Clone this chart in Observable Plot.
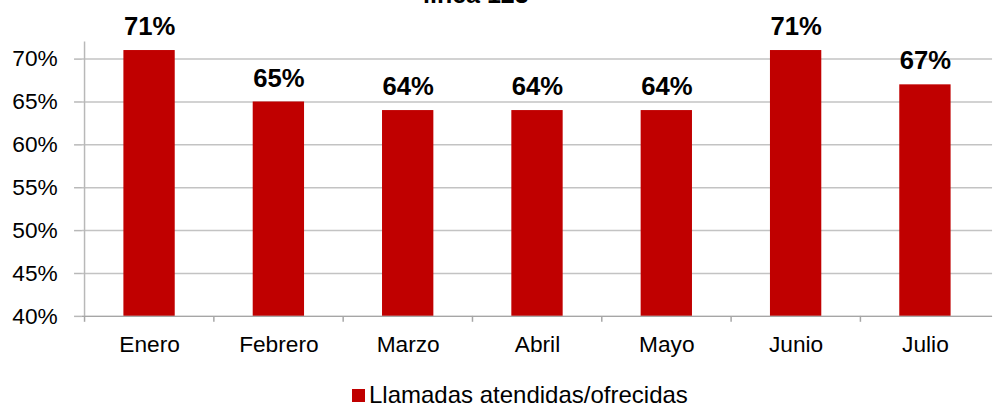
<!DOCTYPE html>
<html>
<head>
<meta charset="utf-8">
<script src="https://cdn.jsdelivr.net/npm/d3@7"></script>
<script src="https://cdn.jsdelivr.net/npm/@observablehq/plot@0.6"></script>
<style>
  html, body { margin: 0; padding: 0; background: #fff; overflow: hidden; }
  #wrap { position: relative; width: 997px; height: 405px; overflow: hidden; font-family: "Liberation Sans", Arial, sans-serif; }
  #title { position: absolute; left: 423px; top: -18px; font-size: 25px; line-height: 25px; font-weight: bold; color: #000; white-space: nowrap; }
  #chart { position: absolute; left: 0; top: 0; }
  #legend { position: absolute; left: 352px; top: 380px; font-size: 24px; line-height: 30px; color: #000; white-space: nowrap; display: flex; align-items: center; }
  #legend .sw { display: inline-block; width: 13px; height: 13px; background: #c00000; margin-right: 4px; }
</style>
</head>
<body>
<div id="wrap">
  <div id="chart"></div>
  <div id="title"></div>
  <div id="legend"></div>
</div>
<script>
const months = ["Enero", "Febrero", "Marzo", "Abril", "Mayo", "Junio", "Julio"];
const rates = [0.71, 0.65, 0.64, 0.64, 0.64, 0.71, 0.67];
const yTicks = [0.40, 0.45, 0.50, 0.55, 0.60, 0.65, 0.70];
const titleText = "línea 123";
const seriesName = "Llamadas atendidas/ofrecidas";
const barColor = "#c00000";

const data = months.map((m, i) => ({month: m, rate: rates[i]}));

const W = 1010, ML = 83, MR = 5;
const step = (W - ML - MR) / months.length;
const pct = d3.format(".0%");

const chart = Plot.plot({
  width: W,
  height: 365,
  marginLeft: ML,
  marginRight: MR,
  marginTop: 42,
  marginBottom: 45,
  style: {fontFamily: '"Liberation Sans", Arial, sans-serif', fontSize: "23px", color: "#000", background: "transparent", overflow: "visible"},
  x: {domain: months, paddingInner: 0.6, paddingOuter: 0.3, axis: null, label: null},
  y: {domain: [0.40, 0.72], axis: null, label: null},
  marks: [
    Plot.gridY(yTicks, {stroke: "#c3c3c3", strokeOpacity: 1, strokeWidth: 1.5}),
    Plot.barY(data, {x: "month", y1: yTicks[0], y2: "rate", fill: barColor}),
    Plot.ruleY([yTicks[0]], {stroke: "#a6a6a6", strokeWidth: 1.5}),
    Plot.ruleX([months[0]], {dx: -step / 2, stroke: "#b8b8b8", strokeWidth: 1.5}),
    Plot.axisX({tickSize: 6, tickFormat: () => "", label: null, dx: -step / 2, stroke: "#a6a6a6", strokeWidth: 1.5}),
    Plot.axisX({tickSize: 0, tickPadding: 20, label: null, fontSize: 23, fill: "#000"}),
    Plot.axisY({ticks: yTicks, tickFormat: pct, label: null, tickSize: 8, tickPadding: 17, fontSize: 23, stroke: "#b8b8b8", strokeWidth: 1.5}),
    Plot.text(data, {x: "month", y: "rate", text: d => pct(d.rate), dy: -24, fontSize: 26, fontWeight: "bold", fill: "#000"})
  ]
});
document.getElementById("chart").appendChild(chart);
document.getElementById("title").textContent = titleText;
const lg = document.getElementById("legend");
const sw = document.createElement("span"); sw.className = "sw"; sw.style.background = barColor;
const lt = document.createElement("span"); lt.textContent = seriesName;
lg.appendChild(sw); lg.appendChild(lt);
</script>
</body>
</html>
